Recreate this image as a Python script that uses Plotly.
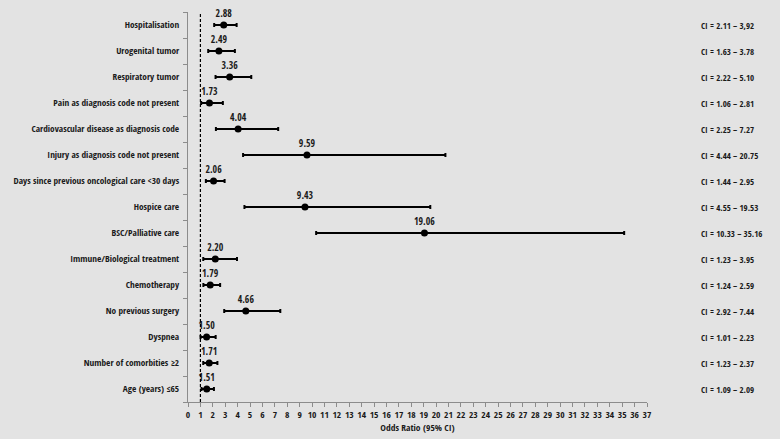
import plotly.graph_objects as go

categories = [
    "Hospitalisation",
    "Urogenital tumor",
    "Respiratory tumor",
    "Pain as diagnosis code not present",
    "Cardiovascular disease as diagnosis code",
    "Injury as diagnosis code not present",
    "Days since previous oncological care <30 days",
    "Hospice care",
    "BSC/Palliative care",
    "Immune/Biological treatment",
    "Chemotherapy",
    "No previous surgery",
    "Dyspnea",
    "Number of comorbities ≥2",
    "Age (years) ≤65",
]
odds_ratio = [2.88, 2.49, 3.36, 1.73, 4.04, 9.59, 2.06, 9.43, 19.06, 2.20, 1.79, 4.66, 1.50, 1.71, 1.51]
ci_low = [2.11, 1.63, 2.22, 1.06, 2.25, 4.44, 1.44, 4.55, 10.33, 1.23, 1.24, 2.92, 1.01, 1.23, 1.09]
ci_high = [3.92, 3.78, 5.10, 2.81, 7.27, 20.75, 2.95, 19.53, 35.16, 3.95, 2.59, 7.44, 2.23, 2.37, 2.09]
ci_text = [
    "CI = 2.11 – 3,92", "CI = 1.63 – 3.78", "CI = 2.22 – 5.10", "CI = 1.06 – 2.81",
    "CI = 2.25 – 7.27", "CI = 4.44 – 20.75", "CI = 1.44 – 2.95", "CI = 4.55 – 19.53",
    "CI = 10.33 – 35.16", "CI = 1.23 – 3.95", "CI = 1.24 – 2.59", "CI = 2.92 – 7.44",
    "CI = 1.01 – 2.23", "CI = 1.23 – 2.37", "CI = 1.09 – 2.09",
]
x_ticks = list(range(0, 38))
reference_line = 1

font_family = "'Open Sans Condensed', 'Liberation Sans Narrow', sans-serif"
bg = "#e3e3e3"
txt = "#1a1a1a"

fig = go.Figure()
fig.add_trace(go.Scatter(
    x=odds_ratio,
    y=categories,
    mode="markers+text",
    marker=dict(color="black", size=7),
    text=[f"{v:.2f}" for v in odds_ratio],
    textposition="top center",
    textfont=dict(family=font_family, size=9.8, color=txt, weight="bold"),
    error_x=dict(
        type="data",
        symmetric=False,
        array=[h - o for h, o in zip(ci_high, odds_ratio)],
        arrayminus=[o - l for o, l in zip(odds_ratio, ci_low)],
        color="black",
        thickness=2,
        width=2,
    ),
    cliponaxis=False,
    showlegend=False,
))

fig.add_shape(type="line", xref="x", yref="paper", x0=reference_line, x1=reference_line,
              y0=0, y1=1, line=dict(color="black", width=1.2, dash="3px,2px"))

for cat, t in zip(categories, ci_text):
    fig.add_annotation(x=1.1133, xref="paper", y=cat, yref="y", text=t, showarrow=False,
                       xanchor="left", xshift=0,
                       font=dict(family=font_family, size=8.9, color=txt, weight="bold"))

fig.update_layout(
    width=780, height=439,
    margin=dict(l=188, r=133, t=12, b=37),
    paper_bgcolor=bg, plot_bgcolor=bg,
    font=dict(family=font_family, color=txt),
    xaxis=dict(
        range=[0, 37], tickmode="array", tickvals=x_ticks, ticktext=[str(v) for v in x_ticks],
        showgrid=False, zeroline=False, showline=True, linecolor="#8c8c8c", linewidth=1,
        ticks="outside", ticklen=4, tickcolor="#8c8c8c", automargin=False,
        tickfont=dict(size=9.5, weight="bold", family=font_family),
        title=dict(text="Odds Ratio (95% CI)", font=dict(size=9.5, weight="bold", family=font_family), standoff=2),
    ),
    yaxis=dict(
        categoryorder="array", categoryarray=categories[::-1], autorange=False,
        range=[-0.5, len(categories) - 0.5],
        showgrid=False, zeroline=False, showline=True, linecolor="#8c8c8c", linewidth=1,
        ticks="outside", tickson="boundaries", ticklen=4, tickcolor="#8c8c8c", automargin=False,
        tickfont=dict(size=9.3, family=font_family, weight="bold"), ticklabelstandoff=6,
    ),
)

fig.write_html("out.html", config={"displayModeBar": False},
               post_script="document.body.style.margin='0px';")
